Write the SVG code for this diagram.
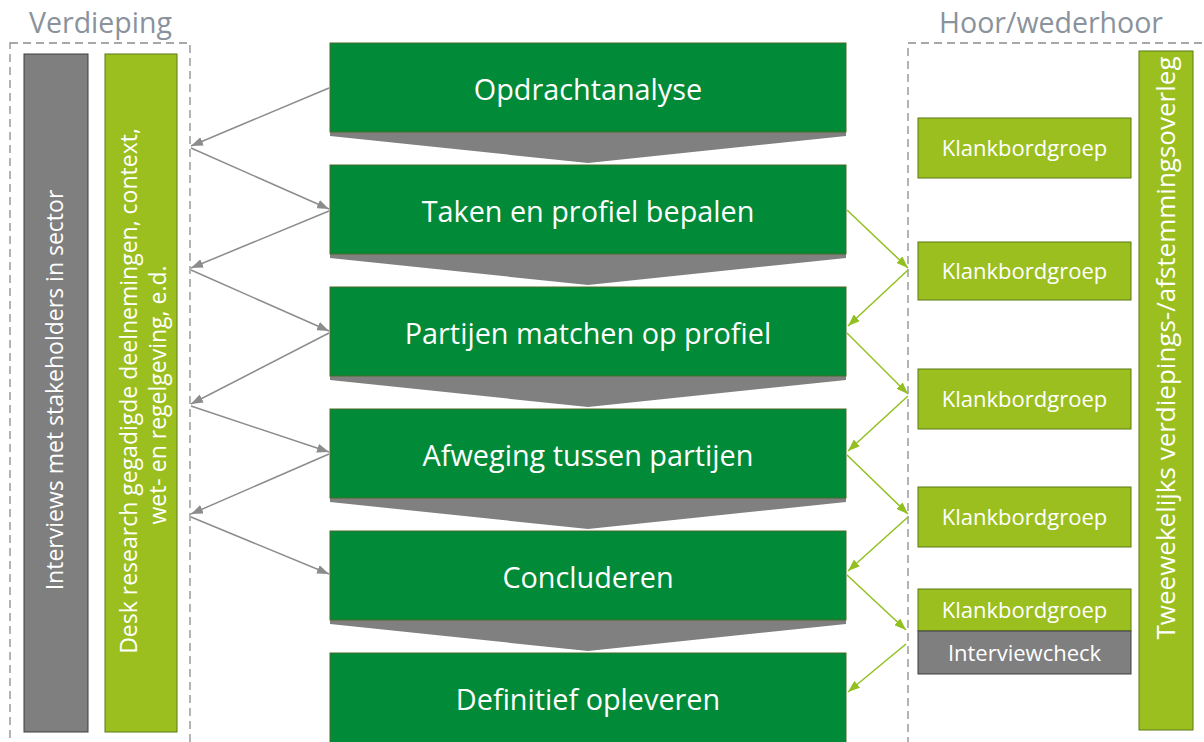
<svg xmlns="http://www.w3.org/2000/svg" width="1204" height="742" viewBox="0 0 1204 742">
<style>
  .bg{fill:#ffffff}
  .title{font-family:"Open Sans","Liberation Sans",sans-serif;font-size:28.5px;fill:#8a929c}
  .dash{fill:none;stroke:#8c8c8c;stroke-width:1.3;stroke-dasharray:8 5}
  .step{fill:#018a37;stroke:#4a6a2a;stroke-width:1}
  .chev{fill:#808080}
  .lime{fill:#9bbf1f;stroke:#5b7a14;stroke-width:1}
  .grey{fill:#7f7f7f;stroke:#3f3f3f;stroke-width:1}
  .t28{font-family:"Open Sans","Liberation Sans",sans-serif;font-size:28.8px;fill:#ffffff;text-anchor:middle}
  .t22{font-family:"Open Sans","Liberation Sans",sans-serif;font-size:22px;fill:#ffffff;text-anchor:middle}
  .t23{font-family:"Open Sans","Liberation Sans",sans-serif;font-size:23px;fill:#ffffff;text-anchor:middle}
  .t26{font-family:"Open Sans","Liberation Sans",sans-serif;font-size:26px;fill:#ffffff;text-anchor:middle}
  .ga{fill:none;stroke:#8c8c8c;stroke-width:1.5;marker-end:url(#ah-grey)}
  .la{fill:none;stroke:#92c020;stroke-width:1.5;marker-end:url(#ah-lime)}
</style>
<defs>
  <marker id="ah-grey" markerUnits="userSpaceOnUse" markerWidth="13" markerHeight="9" refX="12" refY="4.5" orient="auto">
    <path d="M0,0 L12,4.5 L0,9 z" fill="#8c8c8c"/>
  </marker>
  <marker id="ah-lime" markerUnits="userSpaceOnUse" markerWidth="13" markerHeight="9" refX="12" refY="4.5" orient="auto">
    <path d="M0,0 L12,4.5 L0,9 z" fill="#92c020"/>
  </marker>
</defs>
<rect class="bg" x="0" y="0" width="1204" height="742"/>

<g id="verdieping">
  <text class="title" x="29" y="33">Verdieping</text>
  <rect class="dash" x="10" y="43" width="180" height="720"/>
</g>
<g id="hoor-wederhoor">
  <text class="title" x="939" y="33">Hoor/wederhoor</text>
  <rect class="dash" x="908" y="43" width="320" height="720"/>
</g>

<g id="interviews-stakeholders">
  <rect class="grey" x="24" y="54" width="64" height="678"/>
  <text class="t23" transform="translate(63,390) rotate(-90)" x="0" y="0">Interviews met stakeholders in sector</text>
</g>
<g id="desk-research">
  <rect class="lime" x="105" y="54" width="72" height="678"/>
  <text class="t23" transform="translate(137,391) rotate(-90)" x="0" y="0">Desk research gegadigde deelnemingen, context,</text>
  <text class="t23" transform="translate(166,395) rotate(-90)" x="0" y="0">wet- en regelgeving, e.d.</text>
</g>

<g id="chevrons">
  <polygon class="chev" points="330,132 846,132 846,136 588,163 330,136"/>
  <polygon class="chev" points="330,254 846,254 846,258 588,285 330,258"/>
  <polygon class="chev" points="330,376 846,376 846,380 588,407 330,380"/>
  <polygon class="chev" points="330,498 846,498 846,502 588,529 330,502"/>
  <polygon class="chev" points="330,620 846,620 846,624 588,651 330,624"/>
</g>

<g id="opdrachtanalyse">
  <rect class="step" x="330" y="43" width="516" height="89"/>
  <text class="t28" x="588" y="100">Opdrachtanalyse</text>
</g>
<g id="taken-profiel">
  <rect class="step" x="330" y="165" width="516" height="89"/>
  <text class="t28" x="588" y="222">Taken en profiel bepalen</text>
</g>
<g id="partijen-matchen">
  <rect class="step" x="330" y="287" width="516" height="89"/>
  <text class="t28" x="588" y="344">Partijen matchen op profiel</text>
</g>
<g id="afweging">
  <rect class="step" x="330" y="409" width="516" height="89"/>
  <text class="t28" x="588" y="466">Afweging tussen partijen</text>
</g>
<g id="concluderen">
  <rect class="step" x="330" y="531" width="516" height="89"/>
  <text class="t28" x="588" y="588">Concluderen</text>
</g>
<g id="definitief-opleveren">
  <rect class="step" x="330" y="653" width="516" height="100"/>
  <text class="t28" x="588" y="710">Definitief opleveren</text>
</g>

<g id="klankbordgroep-1">
  <rect class="lime" x="918" y="118" width="213" height="60"/>
  <text class="t22" x="1024.5" y="156">Klankbordgroep</text>
</g>
<g id="klankbordgroep-2">
  <rect class="lime" x="918" y="242" width="213" height="58"/>
  <text class="t22" x="1024.5" y="279">Klankbordgroep</text>
</g>
<g id="klankbordgroep-3">
  <rect class="lime" x="918" y="369" width="213" height="60"/>
  <text class="t22" x="1024.5" y="407">Klankbordgroep</text>
</g>
<g id="klankbordgroep-4">
  <rect class="lime" x="918" y="487" width="213" height="60"/>
  <text class="t22" x="1024.5" y="525">Klankbordgroep</text>
</g>
<g id="klankbordgroep-5">
  <rect class="lime" x="918" y="589" width="213" height="42"/>
  <text class="t22" x="1024.5" y="618">Klankbordgroep</text>
</g>
<g id="interviewcheck">
  <rect class="grey" x="918" y="631" width="213" height="43"/>
  <text class="t22" x="1024.5" y="661">Interviewcheck</text>
</g>
<g id="tweewekelijks-overleg">
  <rect class="lime" x="1139" y="51" width="54" height="679"/>
  <text class="t26" transform="translate(1175,348) rotate(-90)" x="0" y="0">Tweewekelijks verdiepings-/afstemmingsoverleg</text>
</g>

<g id="connectors">
  <line class="ga" x1="329" y1="88" x2="191" y2="146"/>
  <line class="ga" x1="191" y1="148" x2="329" y2="209"/>
  <line class="ga" x1="329" y1="211" x2="191" y2="268"/>
  <line class="ga" x1="191" y1="270" x2="329" y2="331"/>
  <line class="ga" x1="329" y1="333" x2="191" y2="404"/>
  <line class="ga" x1="191" y1="406" x2="329" y2="452"/>
  <line class="ga" x1="329" y1="454" x2="191" y2="514"/>
  <line class="ga" x1="191" y1="517" x2="329" y2="574"/>

  <line class="la" x1="847" y1="210" x2="908" y2="268"/>
  <line class="la" x1="908" y1="270" x2="848" y2="326"/>
  <line class="la" x1="847" y1="333" x2="908" y2="394"/>
  <line class="la" x1="908" y1="396" x2="848" y2="451"/>
  <line class="la" x1="847" y1="455" x2="908" y2="514"/>
  <line class="la" x1="908" y1="517" x2="848" y2="571"/>
  <line class="la" x1="847" y1="575" x2="906" y2="630"/>
  <line class="la" x1="906" y1="644" x2="848" y2="692"/>
</g>
</svg>
